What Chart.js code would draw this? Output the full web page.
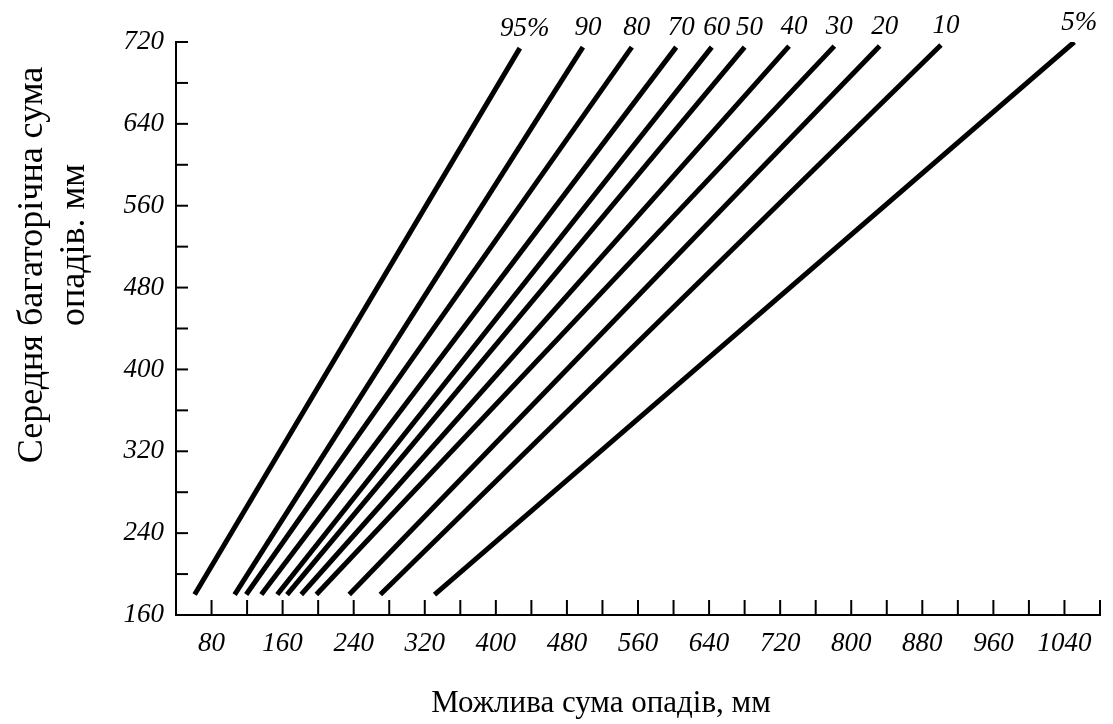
<!DOCTYPE html>
<html>
<head>
<meta charset="utf-8">
<script src="https://cdn.jsdelivr.net/npm/chart.js@4.4.0/dist/chart.umd.min.js"></script>
<style>
  html, body { margin: 0; padding: 0; background: #fff; }
  #wrap { width: 1113px; height: 724px; }
</style>
</head>
<body>
<div id="wrap"><canvas id="chart"></canvas></div>
<script>
// probability curves (%)
var curveLabels = ['95%', '90', '80', '70', '60', '50', '40', '30', '20', '10', '5%'];
var bottomX = [61, 106, 119, 136, 154, 165, 181, 198, 235, 270, 331];
var bottomY = 180;
var topX = [427, 498, 553, 603, 643, 680, 730, 781, 832, 901, 1051];
var topY = [714, 715, 715, 715, 715, 715, 716, 716, 716, 717, 720];

var xTitle = 'Можлива сума опадів, мм';
var yTitle = ['Середня багаторічна сума', 'опадів. мм'];

var datasets = curveLabels.map(function (lab, i) {
    return {
        label: lab,
        data: [{x: bottomX[i], y: bottomY}, {x: topX[i], y: topY[i]}],
        borderColor: '#000',
        borderWidth: 5,
        pointRadius: 0,
        borderCapStyle: 'butt'
    };
});

// inward tick marks like in the book figure
var innerTicks = {
    id: 'innerTicks',
    afterDraw: function (chart) {
        var ctx = chart.ctx, a = chart.chartArea;
        ctx.save();
        ctx.strokeStyle = '#000';
        ctx.lineWidth = 2;
        chart.scales.x.ticks.forEach(function (t) {
            var px = chart.scales.x.getPixelForValue(t.value);
            if (px <= a.left + 2) return;
            ctx.beginPath(); ctx.moveTo(px, a.bottom); ctx.lineTo(px, a.bottom - 15); ctx.stroke();
        });
        chart.scales.y.ticks.forEach(function (t) {
            var py = chart.scales.y.getPixelForValue(t.value);
            if (py >= a.bottom - 2) return;
            ctx.beginPath(); ctx.moveTo(a.left, py); ctx.lineTo(a.left + 12, py); ctx.stroke();
        });
        ctx.restore();
    }
};

// curve labels above line ends + axis titles
var labelsPlugin = {
    id: 'curveLabels',
    afterDatasetsDraw: function (chart) {
        var ctx = chart.ctx;
        ctx.save();
        ctx.fillStyle = '#000';
        ctx.font = 'italic 27px "Liberation Serif", serif';
        ctx.textAlign = 'center';
        ctx.textBaseline = 'bottom';
        chart.data.datasets.forEach(function (ds) {
            var last = ds.data[ds.data.length - 1];
            var px = chart.scales.x.getPixelForValue(last.x);
            var py = chart.scales.y.getPixelForValue(last.y);
            ctx.fillText(ds.label, px + 5, py - 6);
        });

        ctx.font = '31px "Liberation Serif", serif';
        ctx.textBaseline = 'middle';
        ctx.fillText(xTitle, 601, 704);
        ctx.font = '36px "Liberation Serif", serif';
        ctx.translate(33, 265);
        ctx.rotate(-Math.PI / 2);
        ctx.fillText(yTitle[0], 0, 0);
        ctx.fillText(yTitle[1], 20, 42);
        ctx.restore();
    }
};

var tickFont = {family: '"Liberation Serif", serif', size: 27, style: 'italic'};

new Chart(document.getElementById('chart').getContext('2d'), {
    type: 'line',
    data: {datasets: datasets},
    plugins: [innerTicks, labelsPlugin],
    options: {
        responsive: true,
        maintainAspectRatio: false,
        animation: false,
        layout: {padding: {top: 42, right: 4, left: 0, bottom: 0}},
        plugins: {legend: {display: false}, tooltip: {enabled: false}},
        scales: {
            x: {
                type: 'linear',
                min: 40,
                max: 1080,
                afterFit: function (s) { s.height = 109; },
                grid: {display: false, drawTicks: false},
                border: {display: true, color: '#000', width: 2},
                ticks: {
                    stepSize: 40,
                    autoSkip: false,
                    maxRotation: 0,
                    padding: 13,
                    color: '#000',
                    font: tickFont,
                    callback: function (v) { return v % 80 === 0 ? String(v) : ''; }
                }
            },
            y: {
                type: 'linear',
                min: 160,
                max: 720,
                afterFit: function (s) { s.width = 176; },
                grid: {display: false, drawTicks: false},
                border: {display: true, color: '#000', width: 2},
                ticks: {
                    stepSize: 40,
                    autoSkip: false,
                    padding: 12,
                    color: '#000',
                    font: tickFont,
                    callback: function (v) { return v % 80 === 0 ? String(v) : ''; }
                }
            }
        }
    }
});
</script>
</body>
</html>
